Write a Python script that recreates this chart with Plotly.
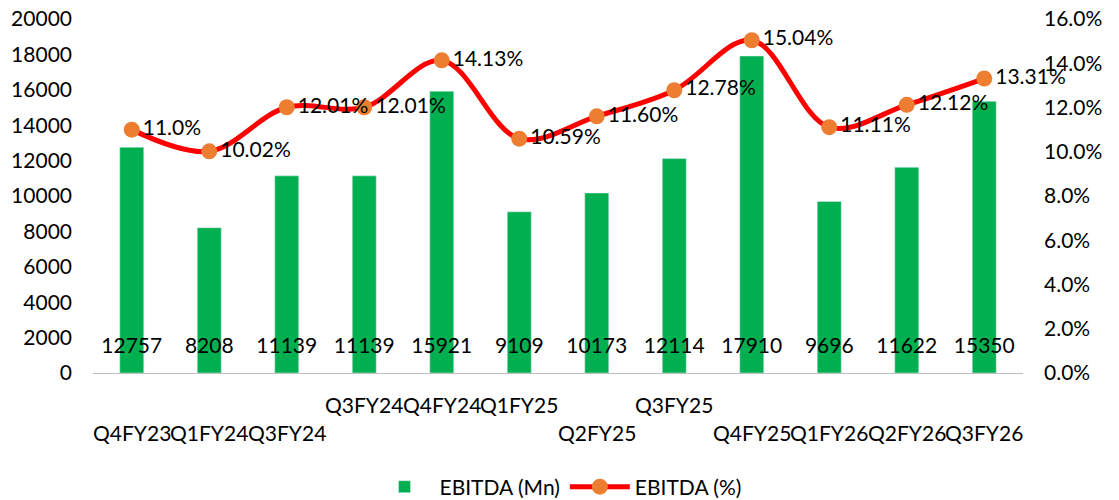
import plotly.graph_objects as go

categories = ["Q4FY23", "Q1FY24", "Q3FY24", "Q3FY24 ", "Q4FY24", "Q1FY25",
              "Q2FY25", "Q3FY25", "Q4FY25", "Q1FY26", "Q2FY26", "Q3FY26"]
ebitda_mn = [12757, 8208, 11139, 11139, 15921, 9109, 10173, 12114, 17910, 9696, 11622, 15350]
ebitda_pct = [11.0, 10.02, 12.01, 12.01, 14.13, 10.59, 11.60, 12.78, 15.04, 11.11, 12.12, 13.31]
pct_labels = ["11.0%", "10.02%", "12.01%", "12.01%", "14.13%", "10.59%", "11.60%",
              "12.78%", "15.04%", "11.11%", "12.12%", "13.31%"]
# tick label row (0 = upper, 1 = lower), as staggered in the reference
label_rows = [1, 1, 1, 0, 0, 0, 1, 0, 1, 1, 1, 1]

FONT = "Lato"
FS = 21
BAR_LABEL_Y = 1400

fig = go.Figure()
fig.add_trace(go.Bar(
    x=categories, y=ebitda_mn, name="EBITDA (Mn)",
    marker=dict(color="#00B050"), width=0.31,
))
fig.add_trace(go.Scatter(
    x=categories, y=[BAR_LABEL_Y] * len(categories), mode="text",
    text=[str(v) for v in ebitda_mn], textposition="middle center",
    textfont=dict(family=FONT, size=FS, color="#000000"),
    showlegend=False, hoverinfo="skip", cliponaxis=False,
))
fig.add_trace(go.Scatter(
    x=categories, y=ebitda_pct, name="EBITDA (%)", yaxis="y2",
    mode="lines+markers+text",
    line=dict(color="#FF0000", width=5, shape="spline", smoothing=1.0),
    marker=dict(color="#ED7D31", size=16),
    text=pct_labels, textposition="middle right", cliponaxis=False,
    textfont=dict(family=FONT, size=FS, color="#000000"),
))

annotations = []
for cat, row in zip(categories, label_rows):
    annotations.append(dict(
        x=cat, xref="x", y=-0.0876 if row == 0 else -0.169, yref="paper",
        text=cat.strip(), showarrow=False, xanchor="center", yanchor="middle",
        font=dict(family=FONT, size=FS, color="#000000"),
    ))

fig.update_layout(
    width=1119, height=500,
    margin=dict(l=93, r=96, t=19, b=127),
    plot_bgcolor="white", paper_bgcolor="white",
    font=dict(family=FONT, size=FS, color="#000000"),
    bargap=0.69,
    xaxis=dict(showticklabels=False, showline=True, linecolor="#BFBFBF", linewidth=1,
               showgrid=False, ticks="", automargin=False,
               range=[-0.5, len(categories) - 0.5]),
    yaxis=dict(range=[0, 20000], dtick=2000, tickformat="d", showgrid=False,
               zeroline=False, showline=False, ticks="", ticklabelstandoff=20,
               automargin=False, tickfont=dict(family=FONT, size=FS)),
    yaxis2=dict(range=[0, 16], dtick=2, overlaying="y", side="right",
                showgrid=False, zeroline=False, showline=False, ticks="",
                ticksuffix="%", tickformat=".1f", ticklabelstandoff=20,
                automargin=False, tickfont=dict(family=FONT, size=FS)),
    legend=dict(orientation="h", x=0.5, xanchor="center", xref="paper",
                y=0.026, yanchor="middle", yref="container",
                font=dict(family=FONT, size=FS), itemwidth=60),
    annotations=annotations,
)

fig.write_html("out.html")
